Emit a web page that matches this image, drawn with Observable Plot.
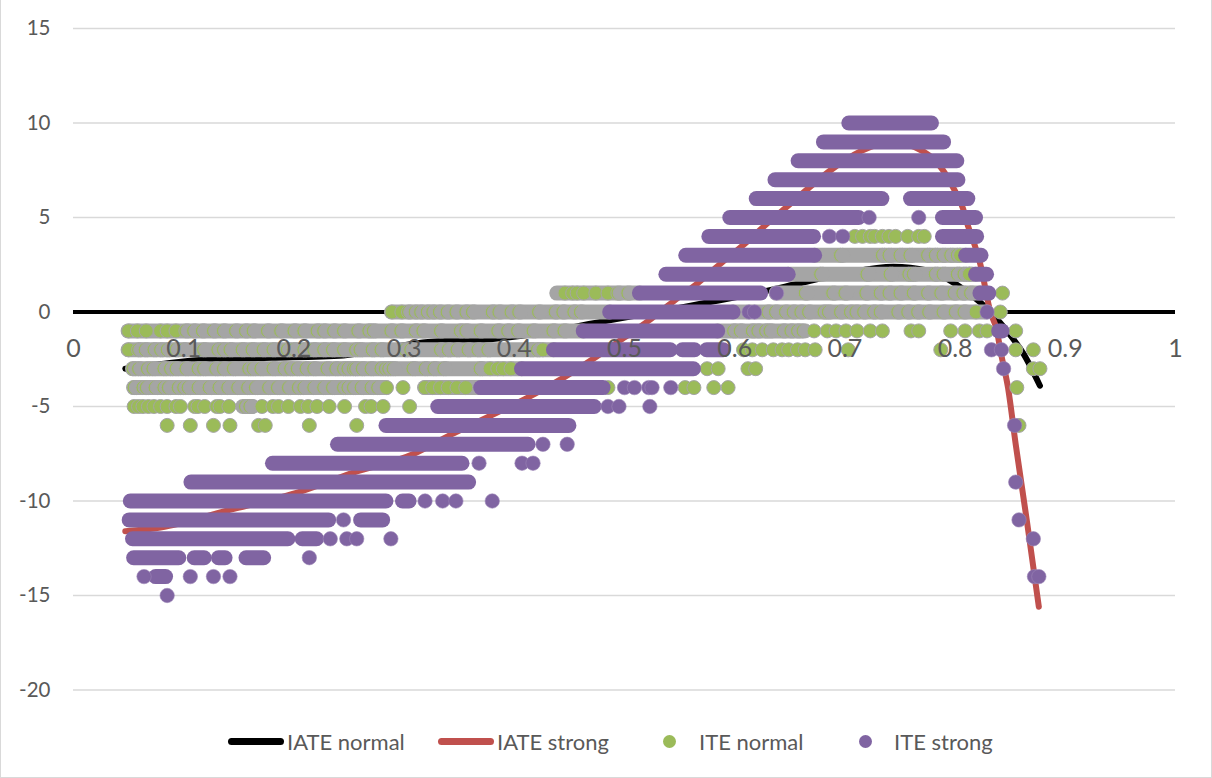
<!DOCTYPE html>
<html><head><meta charset="utf-8">
<script src="https://cdn.jsdelivr.net/npm/d3@7"></script>
<script src="https://cdn.jsdelivr.net/npm/@observablehq/plot@0.6"></script>
<style>
html,body{margin:0;padding:0;background:#fff}
#chart{position:relative;width:1212px;height:778px;overflow:hidden;font-family:Lato,sans-serif}
#chart svg{position:absolute;left:0;top:0;max-width:none!important}
#frame{position:absolute;left:0;top:-2px;width:1212px;height:780px;box-sizing:border-box;border:1.5px solid #d9d9d9;pointer-events:none}
.lg{position:absolute;top:724px;height:40px;line-height:35px;font-size:22px;color:#595959;white-space:nowrap}
.sw{position:absolute;border-radius:4px}
</style></head><body>
<div id="chart"></div>
<script>
const xTicks=[0,0.1,0.2,0.3,0.4,0.5,0.6,0.7,0.8,0.9,1];
const yTicks=[15,10,5,0,-5,-10,-15,-20];
const iateNormal=[[.047,-3],[.08,-2.75],[.124,-2.5],[.18,-2.42],[.245,-2.3],[.29,-1.85],[.33,-1.55],[.363,-1.5],[.42,-1.15],[.485,-.45],[.53,0],[.575,.5],[.62,1],[.657,1.5],[.7,2.05],[.744,2.4],[.775,2.2],[.8,1.5],[.823,.5],[.847,-1],[.862,-2.2],[.877,-3.9]];
const iateStrong=[[.047,-11.6],[.079,-11.4],[.14,-10.5],[.206,-9.5],[.254,-8.5],[.309,-7.5],[.342,-6.5],[.378,-5.5],[.413,-4.5],[.444,-3.5],[.471,-2.5],[.496,-1.5],[.521,-.5],[.543,.5],[.566,1.5],[.586,2.5],[.607,3.5],[.626,4.5],[.646,5.5],[.666,6.5],[.687,7.5],[.714,8.5],[.742,9],[.771,8.5],[.789,7.5],[.799,6.5],[.807,5.5],[.812,4.5],[.818,3.5],[.823,2.5],[.832,0],[.838,-1],[.841,-2],[.848,-4],[.855,-7],[.865,-11],[.876,-15.6]];

// ITE normal: rows that merge into a grey band [y, from, to]
const normalBands=[[3,.673,.810],[2,.649,.819],[1,.439,.514],[1,.638,.823],[0,.289,.487],[0,.599,.829],[-1,.050,.463],[-1,.585,.662],[-2,.050,.436],[-3,.054,.407],[-4,.055,.284],[-4,.319,.370],[-5,.154,.163]];
// ITE normal: points seen as a sliver inside a band
const normalSlivers=[
[3,[.696,.734,.740,.750,.759,.775,.782,.789,.796,.802]],
[2,[.678,.720,.741,.758,.762,.782,.789,.802,.808,.813]],
[1,[.494,.503,.664,.689,.700,.719,.732,.740,.750,.762,.775,.787,.799,.807,.814]],
[0,[.304,.310,.315,.321,.326,.332,.339,.347,.356,.362,.380,.386,.397,.404,.422,.437,.444,.454,.460,.630,.637,.646,.653,.660,.667,.681,.685,.696,.705,.710,.717,.726,.732,.748,.757,.766,.776,.789,.800,.808]],
[-1,[.102,.109,.117,.127,.136,.147,.156,.163,.176,.188,.200,.209,.221,.227,.236,.245,.258,.268,.272,.288,.297,.310,.317,.333,.351,.356,.369,.385,.394,.403,.417,.435,.445,.599,.605,.616,.621,.628,.632,.644,.651,.657,.662]],
[-2,[.059,.065,.073,.079,.085,.093,.100,.118,.131,.136,.142,.153,.162,.172,.181,.194,.200,.209,.218,.227,.235,.245,.256,.260,.271,.279,.301,.306,.333,.340,.348,.358,.367,.376,.415,.421]],
[-3,[.054,.059,.067,.072,.082,.088,.093,.102,.113,.118,.129,.136,.145,.159,.163,.170,.181,.191,.197,.203,.211,.218,.230,.238,.245,.249,.254,.256,.262,.270,.279,.283,.286,.290,.308,.319,.327,.336,.369]],
[-4,[.055,.063,.066,.074,.082,.086,.095,.100,.104,.113,.123,.132,.140,.149,.158,.165,.177,.185,.195,.204,.209,.218,.227,.235,.245,.249,.254,.261,.270,.276]],
[-5,[.156,.160]]
];
// ITE normal: points that show as whole dots
const normalDots=[
[4,[.709,.716,.723,.727,.734,.740,.746,.757,.767,.772]],
[3,[.805]],
[2,[.813]],
[1,[.446,.453,.457,.463,.474,.485,.843]],
[0,[.289,.298,.819,.841]],
[-1,[.050,.058,.066,.079,.085,.093,.672,.684,.692,.701,.711,.723,.734,.760,.767,.796,.809,.822,.829,.855]],
[-2,[.050,.426,.608,.616,.625,.635,.643,.649,.657,.664,.673,.703,.787,.855,.871]],
[-3,[.378,.385,.390,.397,.575,.585,.612,.619,.871,.877]],
[-4,[.284,.299,.319,.326,.333,.340,.348,.356,.485,.555,.563,.581,.594,.856]],
[-5,[.055,.059,.063,.068,.073,.079,.085,.093,.097,.110,.113,.119,.130,.133,.141,.171,.181,.186,.195,.206,.213,.221,.232,.246,.265,.270,.281,.305]],
[-6,[.085,.106,.127,.142,.168,.174,.214,.257,.858]]
];
// ITE strong: solid runs of points [y, from, to]
const strongRuns=[[10,.704,.779],[9,.681,.790],[8,.658,.802],[7,.637,.803],[6,.620,.734],[6,.760,.812],[5,.596,.713],[5,.789,.819],[4,.577,.672],[4,.789,.820],[3,.556,.673],[3,.810,.824],[2,.538,.649],[2,.819,.829],[1,.514,.624],[1,.823,.831],[0,.487,.599],[-1,.463,.585],[-1,.840,.843],[-2,.436,.542],[-2,.553,.564],[-2,.575,.590],[-3,.407,.563],[-4,.370,.481],[-5,.331,.473],[-6,.284,.450],[-7,.240,.413],[-8,.181,.353],[-9,.107,.359],[-10,.052,.284],[-10,.299,.305],[-11,.051,.232],[-11,.261,.281],[-12,.054,.195],[-12,.208,.221],[-13,.055,.096],[-13,.110,.119],[-13,.132,.138],[-13,.157,.173],[-14,.075,.084]];
const strongDots=[
[5,[.722,.767]],[4,[.686,.698]],[1,[.638]],[0,[.613,.618,.829]],
[-2,[.833,.842]],[-3,[.844]],
[-4,[.500,.509,.522,.525,.542]],[-5,[.485,.495,.523]],[-6,[.854]],
[-7,[.426,.448]],[-8,[.368,.407,.417]],[-9,[.855]],
[-10,[.319,.335,.347,.380]],[-11,[.245,.858]],[-12,[.233,.248,.257,.288,.871]],
[-13,[.214]],[-14,[.064,.106,.127,.142,.872,.876]],[-15,[.085]]
];
const legendItems=[
 {label:"IATE normal",color:"#000000",kind:"line",sw:228,tx:287},
 {label:"IATE strong",color:"#C0504D",kind:"line",sw:438,tx:497},
 {label:"ITE normal",color:"#9BBB59",kind:"dot",sw:669,tx:699},
 {label:"ITE strong",color:"#8064A2",kind:"dot",sw:865,tx:894}
];

const GREEN="#9BBB59",PURPLE="#8064A2",GREY="#A5A5A5",TXT="#595959",GRID="#D9D9D9";
const sliverWidth=0.002;
const greenRecords=[];
const rowYs=[...new Set([...normalDots,...normalSlivers].map(r=>r[0]))];
for(const y of rowYs){
  const a=(normalSlivers.find(r=>r[0]===y)||[0,[]])[1].map(x=>({x,s:1}));
  const b=(normalDots.find(r=>r[0]===y)||[0,[]])[1].map(x=>({x,s:0}));
  for(const p of [...a,...b].sort((m,n)=>m.x-n.x)){
    greenRecords.push({x:p.x,y,c:GREEN});
    if(p.s) greenRecords.push({x:p.x+sliverWidth,y,c:GREY});
  }
}
const strongRecords=strongDots.flatMap(([y,xs])=>xs.map(x=>({x,y})));
const plot=Plot.plot({
  width:1212,height:724,marginLeft:73,marginRight:37,marginTop:28,marginBottom:34.5,
  style:{fontFamily:"Lato,sans-serif",background:"transparent"},
  x:{domain:[0,1],axis:null},
  y:{domain:[-20,15],axis:null},
  marks:[
    Plot.ruleY(yTicks,{stroke:GRID,strokeWidth:1.5}),
    Plot.ruleY([0],{stroke:"#000",strokeWidth:4}),
    Plot.line(iateNormal,{x:d=>d[0],y:d=>d[1],stroke:"#000",strokeWidth:6,curve:"monotone-x",strokeLinecap:"round"}),
    Plot.line(iateStrong,{x:d=>d[0],y:d=>d[1],stroke:"#C0504D",strokeWidth:6,curve:"monotone-x",strokeLinecap:"round"}),
    Plot.ruleY(normalBands,{y:d=>d[0],x1:d=>d[1],x2:d=>d[2],stroke:GREY,strokeWidth:15,strokeLinecap:"round"}),
    Plot.dot(greenRecords,{x:"x",y:"y",r:7,fill:{value:d=>d.c,scale:null},stroke:GREY,strokeWidth:1}),
    Plot.ruleY(strongRuns,{y:d=>d[0],x1:d=>d[1],x2:d=>d[2],stroke:PURPLE,strokeWidth:15,strokeLinecap:"round"}),
    Plot.dot(strongRecords,{x:"x",y:"y",r:7.2,fill:PURPLE,stroke:"#9c87b7",strokeWidth:.6}),
    Plot.text(xTicks,{x:d=>d,y:0,dy:37,text:d=>String(d),fill:TXT,fontSize:25}),
    Plot.text(yTicks,{x:0,y:d=>d,dx:-23,textAnchor:"end",text:d=>String(d),fill:TXT,fontSize:20.5})
  ]
});
const root=document.getElementById("chart");
root.appendChild(plot);
for(const it of legendItems){
  const t=document.createElement("div");
  t.className="lg";t.style.left=it.tx+"px";t.textContent=it.label;root.appendChild(t);
  const s=document.createElement("div");s.className="sw";s.style.background=it.color;
  if(it.kind==="line"){s.style.left=it.sw+"px";s.style.top="738px";s.style.width="56px";s.style.height="7px";}
  else{s.style.left=(it.sw-6.5)+"px";s.style.top="735px";s.style.width="13px";s.style.height="13px";s.style.borderRadius="50%";}
  root.appendChild(s);
}
const fr=document.createElement("div");fr.id="frame";root.appendChild(fr);
</script>
</body></html>
